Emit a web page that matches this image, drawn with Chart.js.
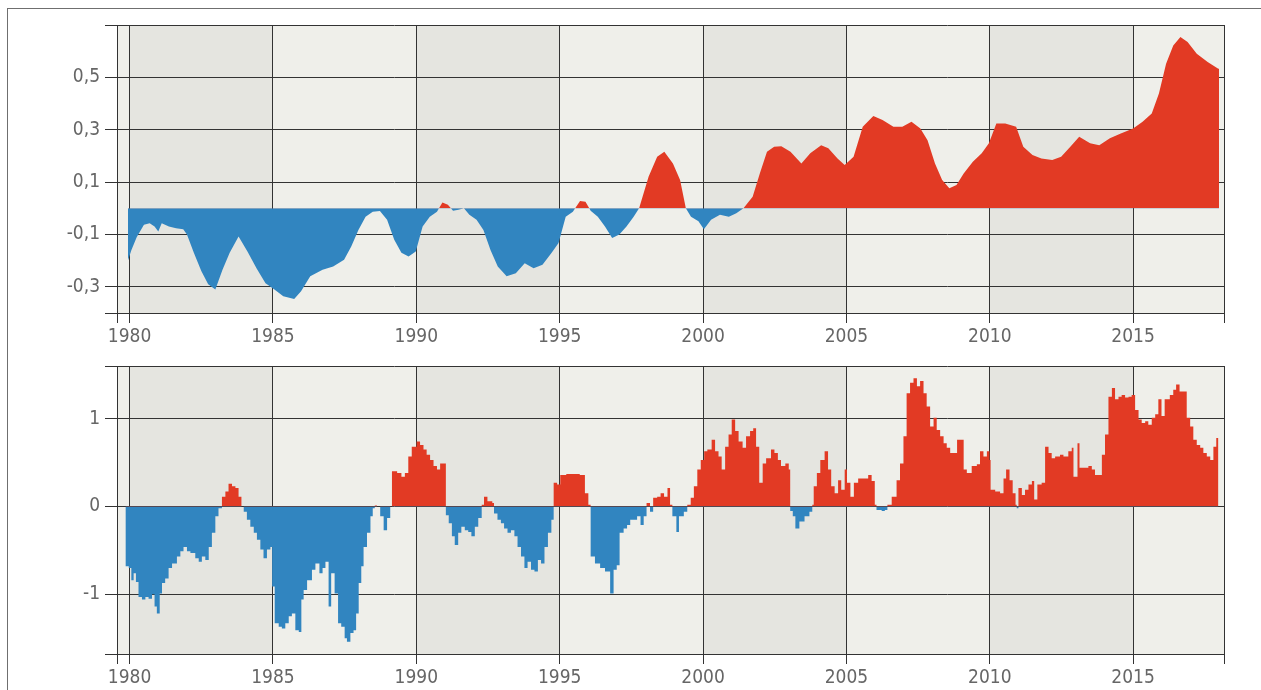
<!DOCTYPE html>
<html>
<head>
<meta charset="utf-8">
<script src="https://cdn.jsdelivr.net/npm/chart.js@4.4.1/dist/chart.umd.min.js"></script>
<style>
  html, body { margin: 0; padding: 0; background: #fff; }
  body { width: 1261px; height: 690px; position: relative; overflow: hidden; }
  .frame { position: absolute; left: 7px; top: 8px; width: 1300px; height: 700px;
           border-top: 1px solid #6f6f6f; border-left: 1px solid #6f6f6f; }
  canvas { position: absolute; left: 0; display: block; }
  #top { top: 0; }
  #bottom { top: 345px; }
</style>
</head>
<body>
<div class="frame"></div>
<canvas id="top" width="1261" height="345"></canvas>
<canvas id="bottom" width="1261" height="345"></canvas>
<script>
// x axis
const xMin = 1979.56;
const xMax = 2018.17;
const xTickYears = [1980, 1985, 1990, 1995, 2000, 2005, 2010, 2015];
const darkBands = [[1980, 1985], [1990, 1995], [2000, 2005], [2010, 2015]];

// top panel (smoothed series)
const topTicks = [-0.4, -0.3, -0.1, 0.1, 0.3, 0.5, 0.7];
const topYears = [
  1979.94, 1980.06, 1980.25, 1980.5, 1980.7, 1980.87, 1981.0, 1981.12, 1981.37, 1981.62,
  1981.87, 1982.0, 1982.24, 1982.5, 1982.74, 1982.99, 1983.24, 1983.49, 1983.8, 1984.11,
  1984.43, 1984.74, 1985.05, 1985.36, 1985.74, 1985.98, 1986.3, 1986.73, 1987.1, 1987.48,
  1987.73, 1987.98, 1988.23, 1988.48, 1988.73, 1988.98, 1989.23, 1989.48, 1989.73, 1989.98,
  1990.22, 1990.47, 1990.72, 1990.91, 1991.1, 1991.28, 1991.47, 1991.66, 1991.85, 1992.1,
  1992.34, 1992.59, 1992.84, 1993.15, 1993.47, 1993.78, 1994.09, 1994.4, 1994.72, 1994.96,
  1995.21, 1995.46, 1995.71, 1995.9, 1996.08, 1996.33, 1996.58, 1996.83, 1997.08, 1997.33,
  1997.58, 1997.77, 1998.1, 1998.4, 1998.65, 1998.95, 1999.2, 1999.4, 1999.58, 1999.84,
  2000.03, 2000.28, 2000.59, 2000.9, 2001.16, 2001.41, 2001.73, 2001.98, 2002.23, 2002.48,
  2002.73, 2003.05, 2003.43, 2003.74, 2004.12, 2004.37, 2004.69, 2004.94, 2005.25, 2005.57,
  2005.94, 2006.26, 2006.64, 2006.95, 2007.27, 2007.58, 2007.83, 2008.09, 2008.34, 2008.59,
  2008.84, 2009.09, 2009.41, 2009.72, 2009.97, 2010.23, 2010.54, 2010.92, 2011.17, 2011.49,
  2011.8, 2012.18, 2012.49, 2012.81, 2013.12, 2013.5, 2013.82, 2014.19, 2014.57, 2015.0,
  2015.33, 2015.65, 2015.9, 2016.15, 2016.4, 2016.65, 2016.9, 2017.22, 2017.6, 2017.97,
  2018.0
];
const topValues = [
  -0.20, -0.16, -0.11, -0.063, -0.057, -0.07, -0.089, -0.057, -0.07, -0.076,
  -0.08, -0.10, -0.17, -0.24, -0.29, -0.31, -0.235, -0.17, -0.108, -0.165,
  -0.23, -0.286, -0.31, -0.336, -0.347, -0.317, -0.26, -0.235, -0.222, -0.197,
  -0.146, -0.083, -0.032, -0.013, -0.01, -0.044, -0.12, -0.17, -0.184, -0.165,
  -0.07, -0.032, -0.013, 0.022, 0.013, -0.009, -0.006, 0, -0.025, -0.044,
  -0.083, -0.16, -0.222, -0.26, -0.248, -0.21, -0.229, -0.216, -0.17, -0.133,
  -0.032, -0.013, 0.028, 0.025, -0.009, -0.032, -0.07, -0.114, -0.10, -0.07,
  -0.032, 0, 0.12, 0.197, 0.216, 0.171, 0.108, 0, -0.032, -0.05,
  -0.08, -0.044, -0.025, -0.032, -0.019, 0, 0.044, 0.133, 0.216, 0.235,
  0.237, 0.216, 0.171, 0.21, 0.241, 0.229, 0.19, 0.165, 0.197, 0.311,
  0.352, 0.337, 0.311, 0.311, 0.33, 0.305, 0.26, 0.171, 0.108, 0.076,
  0.089, 0.133, 0.178, 0.21, 0.248, 0.324, 0.324, 0.311, 0.235, 0.203,
  0.19, 0.184, 0.197, 0.235, 0.273, 0.248, 0.241, 0.267, 0.286, 0.305,
  0.33, 0.362, 0.438, 0.552, 0.622, 0.654, 0.635, 0.59, 0.559, 0.533,
  0.533
];

// bottom panel (stepped series)
const bottomTicks = [-1.68, -1, 0, 1, 1.6];
const bottomYears = [
  1979.85, 1979.97, 1980.06, 1980.14, 1980.22, 1980.31, 1980.43, 1980.55, 1980.66, 1980.78,
  1980.87, 1980.95, 1981.05, 1981.13, 1981.24, 1981.36, 1981.48, 1981.65, 1981.77, 1981.88,
  1982.0, 1982.12, 1982.29, 1982.41, 1982.52, 1982.64, 1982.76, 1982.87, 1982.99, 1983.1,
  1983.22, 1983.34, 1983.45, 1983.57, 1983.69, 1983.8, 1983.9, 1983.98, 1984.09, 1984.21,
  1984.33, 1984.44, 1984.56, 1984.67, 1984.79, 1984.91, 1984.97, 1985.06, 1985.2, 1985.31,
  1985.43, 1985.55, 1985.66, 1985.78, 1985.9, 1985.99, 1986.07, 1986.19, 1986.36, 1986.48,
  1986.62, 1986.73, 1986.83, 1986.94, 1987.03, 1987.15, 1987.27, 1987.38, 1987.5, 1987.58,
  1987.7, 1987.81, 1987.9, 1987.99, 1988.08, 1988.16, 1988.28, 1988.4, 1988.48, 1988.55,
  1988.63, 1988.74, 1988.86, 1988.98, 1989.09, 1989.15, 1989.33, 1989.48, 1989.6, 1989.72,
  1989.84, 1990.01, 1990.13, 1990.25, 1990.36, 1990.48, 1990.6, 1990.72, 1990.83, 1990.99,
  1991.03, 1991.13, 1991.24, 1991.34, 1991.46, 1991.57, 1991.69, 1991.81, 1991.92, 1992.04,
  1992.16, 1992.28, 1992.36, 1992.48, 1992.65, 1992.71, 1992.83, 1992.95, 1993.06, 1993.18,
  1993.3, 1993.42, 1993.53, 1993.65, 1993.77, 1993.88, 1994.0, 1994.12, 1994.24, 1994.35,
  1994.47, 1994.59, 1994.71, 1994.79, 1994.91, 1995.02, 1995.23, 1995.47, 1995.7, 1995.88,
  1996.0, 1996.08, 1996.23, 1996.41, 1996.58, 1996.76, 1996.88, 1996.99, 1997.09, 1997.23,
  1997.35, 1997.46, 1997.58, 1997.7, 1997.82, 1997.93, 1998.03, 1998.15, 1998.26, 1998.4,
  1998.52, 1998.64, 1998.76, 1998.85, 1998.93, 1999.07, 1999.16, 1999.33, 1999.45, 1999.57,
  1999.68, 1999.8, 1999.92, 2000.04, 2000.15, 2000.3, 2000.42, 2000.54, 2000.65, 2000.77,
  2000.89, 2001.0, 2001.12, 2001.24, 2001.38, 2001.5, 2001.64, 2001.75, 2001.85, 2001.96,
  2002.08, 2002.2, 2002.37, 2002.49, 2002.61, 2002.72, 2002.87, 2002.99, 2003.04, 2003.13,
  2003.22, 2003.36, 2003.54, 2003.71, 2003.81, 2003.86, 2003.97, 2004.09, 2004.24, 2004.36,
  2004.47, 2004.59, 2004.71, 2004.82, 2004.94, 2005.02, 2005.14, 2005.26, 2005.41, 2005.58,
  2005.76, 2005.88, 2005.99, 2006.05, 2006.23, 2006.34, 2006.43, 2006.58, 2006.75, 2006.87,
  2006.99, 2007.1, 2007.22, 2007.34, 2007.46, 2007.57, 2007.69, 2007.8, 2007.92, 2008.04,
  2008.15, 2008.27, 2008.39, 2008.5, 2008.62, 2008.74, 2008.86, 2008.97, 2009.09, 2009.2,
  2009.37, 2009.55, 2009.66, 2009.78, 2009.9, 2009.99, 2010.03, 2010.19, 2010.36, 2010.48,
  2010.57, 2010.69, 2010.8, 2010.9, 2010.94, 2011.0, 2011.12, 2011.23, 2011.35, 2011.47,
  2011.55, 2011.66, 2011.81, 2011.93, 2012.05, 2012.16, 2012.28, 2012.45, 2012.57, 2012.74,
  2012.86, 2012.92, 2013.06, 2013.13, 2013.27, 2013.44, 2013.56, 2013.67, 2013.83, 2013.91,
  2014.02, 2014.14, 2014.26, 2014.37, 2014.49, 2014.6, 2014.72, 2014.84, 2014.95, 2015.07,
  2015.19, 2015.3, 2015.42, 2015.53, 2015.65, 2015.77, 2015.88, 2015.99, 2016.1, 2016.28,
  2016.4, 2016.5, 2016.62, 2016.76, 2016.87, 2016.99, 2017.1, 2017.22, 2017.34, 2017.45,
  2017.57, 2017.69, 2017.8, 2017.9, 2017.98
];
const bottomValues = [
  -0.68, -0.70, -0.84, -0.76, -0.86, -1.03, -1.06, -1.03, -1.05, -1.0,
  -1.14, -1.22, -0.99, -0.87, -0.82, -0.70, -0.65, -0.57, -0.51, -0.46,
  -0.51, -0.53, -0.59, -0.63, -0.57, -0.61, -0.46, -0.30, -0.11, -0.02,
  0.11, 0.17, 0.26, 0.23, 0.21, 0.11, 0, -0.06, -0.15, -0.23,
  -0.30, -0.38, -0.49, -0.59, -0.49, -0.46, -0.91, -1.33, -1.37, -1.39,
  -1.33, -1.25, -1.22, -1.41, -1.43, -1.06, -0.95, -0.84, -0.72, -0.65,
  -0.76, -0.70, -0.63, -1.14, -0.76, -0.99, -1.33, -1.37, -1.50, -1.54,
  -1.44, -1.41, -1.22, -0.87, -0.68, -0.46, -0.30, -0.11, -0.02, 0.01,
  0, -0.11, -0.27, -0.13, 0, 0.40, 0.38, 0.34, 0.38, 0.57,
  0.68, 0.74, 0.70, 0.65, 0.59, 0.53, 0.46, 0.42, 0.49, 0.49,
  -0.10, -0.19, -0.34, -0.44, -0.30, -0.23, -0.27, -0.29, -0.34, -0.23,
  -0.13, 0.02, 0.11, 0.06, 0.04, -0.08, -0.15, -0.19, -0.25, -0.30,
  -0.27, -0.34, -0.46, -0.57, -0.70, -0.63, -0.72, -0.74, -0.61, -0.65,
  -0.46, -0.30, -0.15, 0.27, 0.25, 0.36, 0.37, 0.37, 0.36, 0.15,
  0.02, -0.57, -0.65, -0.70, -0.74, -0.99, -0.72, -0.67, -0.30, -0.25,
  -0.21, -0.15, -0.15, -0.11, -0.21, -0.11, 0.04, -0.06, 0.10, 0.11,
  0.15, 0.11, 0.21, 0.02, -0.11, -0.29, -0.11, -0.06, 0.02, 0.10,
  0.23, 0.42, 0.53, 0.63, 0.65, 0.76, 0.63, 0.57, 0.42, 0.68,
  0.82, 0.99, 0.86, 0.74, 0.67, 0.80, 0.86, 0.89, 0.68, 0.27,
  0.49, 0.55, 0.65, 0.61, 0.53, 0.46, 0.49, 0.42, -0.05, -0.11,
  -0.25, -0.17, -0.11, -0.06, 0.02, 0.23, 0.38, 0.53, 0.63, 0.42,
  0.23, 0.15, 0.30, 0.19, 0.42, 0.27, 0.11, 0.27, 0.32, 0.32,
  0.36, 0.29, 0.02, -0.04, -0.05, -0.04, 0.02, 0.11, 0.30, 0.49,
  0.80, 1.29, 1.41, 1.46, 1.37, 1.43, 1.29, 1.14, 0.91, 1.01,
  0.87, 0.80, 0.72, 0.67, 0.61, 0.61, 0.76, 0.76, 0.42, 0.38,
  0.46, 0.48, 0.63, 0.57, 0.63, 0.53, 0.19, 0.17, 0.15, 0.32,
  0.42, 0.30, 0.15, 0.02, -0.02, 0.21, 0.13, 0.19, 0.25, 0.29,
  0.08, 0.25, 0.27, 0.68, 0.61, 0.55, 0.57, 0.59, 0.57, 0.63,
  0.67, 0.34, 0.72, 0.44, 0.44, 0.46, 0.42, 0.36, 0.36, 0.59,
  0.82, 1.25, 1.35, 1.22, 1.25, 1.27, 1.24, 1.25, 1.27, 1.10,
  0.99, 0.95, 0.97, 0.93, 1.01, 1.05, 1.22, 1.03, 1.22, 1.27,
  1.33, 1.39, 1.31, 1.31, 1.01, 0.91, 0.76, 0.70, 0.67, 0.61,
  0.57, 0.53, 0.68, 0.78, 0.78
];

const RED = '#e23a24';
const BLUE = '#3185c0';
const GRID = '#333333';
const TEXT = '#666666';
const FONT = '"Liberation Sans Narrow", "DejaVu Sans Condensed", Roboto, sans-serif';

// alternating 5-year background bands
const bandPlugin = {
  id: 'bands',
  beforeDraw(chart) {
    const { ctx, chartArea: a, scales: { x } } = chart;
    ctx.save();
    ctx.fillStyle = '#efefea';
    ctx.fillRect(a.left, a.top, a.right - a.left, a.bottom - a.top);
    ctx.fillStyle = '#e5e5e0';
    darkBands.forEach(([s, e]) => {
      const l = x.getPixelForValue(s), r = x.getPixelForValue(e);
      ctx.fillRect(l, a.top, r - l, a.bottom - a.top);
    });
    ctx.restore();
  }
};

function makeChart(id, years, values, yTicks, yLabel, stepped, pad, xHeight) {
  const ctx = document.getElementById(id).getContext('2d');
  return new Chart(ctx, {
    type: 'line',
    data: {
      datasets: [{
        data: years.map((yr, i) => ({ x: yr, y: values[i] })),
        borderWidth: 0,
        borderColor: 'rgba(0,0,0,0)',
        pointRadius: 0,
        tension: 0,
        stepped: stepped,
        fill: { target: 'origin', above: RED, below: BLUE }
      }]
    },
    options: {
      responsive: false,
      animation: false,
      events: [],
      layout: { padding: pad },
      plugins: { legend: { display: false }, tooltip: { enabled: false } },
      scales: {
        x: {
          type: 'linear',
          min: xMin,
          max: xMax,
          z: 1,
          afterBuildTicks: (s) => {
            s.ticks = [xMin, ...xTickYears, xMax].map(v => ({ value: v }));
          },
          afterFit: (s) => { s.height = xHeight; },
          grid: { color: GRID, lineWidth: 1, tickLength: 10 },
          border: { color: GRID },
          ticks: {
            autoSkip: false,
            maxRotation: 0,
            padding: 3,
            color: TEXT,
            font: { family: FONT, size: 19 },
            callback: (v) => xTickYears.includes(v) ? String(v) : ''
          }
        },
        y: {
          min: yTicks[0],
          max: yTicks[yTicks.length - 1],
          z: 1,
          afterBuildTicks: (s) => {
            s.ticks = yTicks.map(v => ({ value: v }));
          },
          afterFit: (s) => { s.width = 117; },
          grid: { color: GRID, lineWidth: 1, tickLength: 12 },
          border: { color: GRID },
          ticks: {
            autoSkip: false,
            padding: 5,
            color: TEXT,
            font: { family: FONT, size: 19 },
            callback: yLabel
          }
        }
      }
    },
    plugins: [bandPlugin]
  });
}

makeChart('top', topYears, topValues, topTicks,
  (v) => (v === -0.4 || v === 0.7) ? '' : v.toFixed(1).replace('.', ','),
  false, { top: 25, right: 37, left: 0, bottom: 0 }, 32);

makeChart('bottom', bottomYears, bottomValues, bottomTicks,
  (v) => (v === -1.68 || v === 1.6) ? '' : String(v),
  true, { top: 21, right: 37, left: 0, bottom: 0 }, 36);
</script>
</body>
</html>
